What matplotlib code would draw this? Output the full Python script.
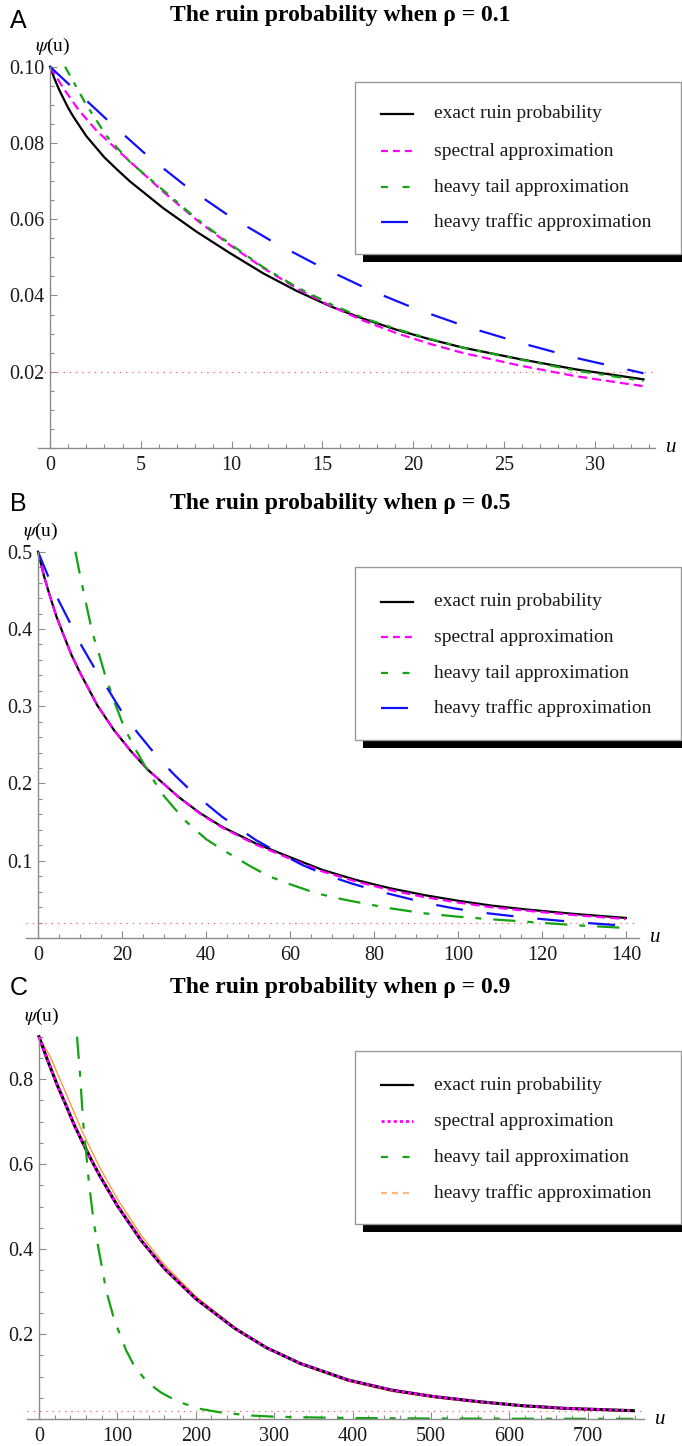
import matplotlib
matplotlib.use("Agg")
import matplotlib.pyplot as plt
from matplotlib.lines import Line2D
from matplotlib.patches import Rectangle
from matplotlib.ticker import MultipleLocator

plt.rcParams['font.family'] = ['Liberation Serif', 'DejaVu Serif']
plt.rcParams['mathtext.fontset'] = 'stix'
plt.rcParams['lines.scale_dashes'] = False

W, H = 682, 1446

# ---------------- data ----------------
labels = ["exact ruin probability", "spectral approximation",
          "heavy tail approximation", "heavy traffic approximation"]

# panel A, rho = 0.1
a_exact_u = [0, 0.25, 0.5, 1.0, 1.3, 2.0, 3.0, 3.7, 4.41, 6.24, 8.08, 9.92, 11.75,
             13.59, 15.43, 17.26, 19.1, 20.94, 22.77, 25.9, 29.0, 32.7]
a_exact = [0.100, 0.0968, 0.0940, 0.0892, 0.0868, 0.0818, 0.0762, 0.0730, 0.0699,
           0.0629, 0.0567, 0.0511, 0.0458, 0.0412, 0.0372, 0.0339, 0.0310, 0.0285,
           0.0263, 0.0233, 0.0206, 0.0180]
a_spec_u = [0, 0.73, 1.6, 2.57, 4.41, 6.24, 8.08, 9.92, 11.75, 13.59, 15.43, 17.26,
            19.1, 20.94, 22.77, 25.9, 29.0, 32.7]
a_spec = [0.100, 0.0944, 0.0885, 0.0832, 0.0751, 0.0672, 0.0598, 0.0532, 0.0472,
          0.0419, 0.0373, 0.0334, 0.0301, 0.0273, 0.0249, 0.0216, 0.0188, 0.0162]
a_tail_u = [0.83, 2.0, 3.12, 4.41, 6.24, 8.08, 9.92, 11.75, 13.59, 15.43, 17.26,
            19.1, 20.94, 22.77, 25.9, 29.0, 32.7]
a_tail = [0.100, 0.0900, 0.0818, 0.0750, 0.0676, 0.0601, 0.0535, 0.0474, 0.0422,
          0.0378, 0.0341, 0.0312, 0.0286, 0.0263, 0.0232, 0.0203, 0.0176]
a_traf_u = [0, 3.12, 5.33, 7.53, 9.92, 12.2, 14.88, 17.63, 20.2, 22.96, 25.9, 29.0, 32.7]
a_traf = [0.100, 0.0862, 0.0768, 0.0685, 0.0607, 0.0543, 0.0476, 0.0414, 0.0364,
          0.0318, 0.0276, 0.0236, 0.0196]

# panel B, rho = 0.5
b_exact_u = [0, 1.4, 2.9, 4.4, 6.1, 8.0, 10.1, 14.1, 18.1, 22.1, 26.1, 33.4, 38.5,
             43.8, 51.8, 59.8, 67.8, 75.8, 83.9, 91.9, 99.9, 107.9, 115.9, 128, 140]
b_exact = [0.500, 0.469, 0.4415, 0.416, 0.392, 0.366, 0.3424, 0.3014, 0.269, 0.2420,
           0.2180, 0.1828, 0.162, 0.144, 0.1225, 0.105, 0.088, 0.075, 0.0643,
           0.0556, 0.0483, 0.0420, 0.0371, 0.031, 0.026]
b_spec_u = [0, 1.4, 2.9, 4.4, 6.1, 8.0, 10.1, 14.1, 18.1, 22.1, 26.1, 33.4, 38.5,
            43.8, 51.8, 59.8, 67.8, 75.8, 83.9, 91.9, 99.9, 107.9, 115.9, 128, 140]
b_spec = [0.500, 0.469, 0.4415, 0.416, 0.392, 0.366, 0.3424, 0.3014, 0.269, 0.2420,
          0.2180, 0.1828, 0.161, 0.143, 0.121, 0.103, 0.086, 0.073, 0.062, 0.053,
          0.046, 0.0398, 0.0355, 0.0295, 0.0245]
b_tail_u = [8.9, 10.1, 11.7, 12.9, 14.5, 16.1, 18.5, 20.5, 22.9, 24.5, 26.9, 30.1,
            35, 40, 43.8, 47.4, 51, 55, 59.8, 66.2, 72.6, 78.3, 83.9, 91.9, 99.9,
            107.9, 114, 128, 140]
b_tail = [0.500, 0.467, 0.4265, 0.396, 0.368, 0.338, 0.301, 0.273, 0.247, 0.232,
          0.209, 0.183, 0.152, 0.128, 0.1147, 0.103, 0.0915, 0.080, 0.070, 0.058,
          0.050, 0.044, 0.0384, 0.032, 0.0276, 0.0242, 0.022, 0.0165, 0.013]
b_traf_u = [0, 2.5, 4.9, 7.9, 10.5, 13.7, 17.0, 20.5, 24.1, 28.4, 32.5, 37.1, 43.8,
            47, 51.8, 57.4, 63, 68.6, 75, 80.6, 87, 92.6, 99, 105.5, 111.9, 115.9,
            128, 140]
b_traf = [0.500, 0.467, 0.437, 0.405, 0.377, 0.347, 0.319, 0.288, 0.263, 0.2345,
          0.211, 0.187, 0.157, 0.145, 0.127, 0.110, 0.0944, 0.0815, 0.070, 0.0612,
          0.0526, 0.045, 0.0384, 0.033, 0.029, 0.0265, 0.0205, 0.0158]

# panel C, rho = 0.9
c_exact_u = [0, 7, 14, 24, 35, 45, 56.5, 67, 78, 100, 130, 160, 200, 250, 290, 333,
             394, 450, 505, 560, 616, 671, 758]
c_exact = [0.900, 0.864, 0.830, 0.783, 0.736, 0.692, 0.648, 0.609, 0.571, 0.502,
           0.421, 0.354, 0.283, 0.213, 0.168, 0.131, 0.092, 0.068, 0.0525, 0.041,
           0.0314, 0.0251, 0.0196]
c_spec_u = [0, 7, 14, 24, 35, 45, 56.5, 67, 78, 100, 130, 160, 200, 250, 290, 333,
            394, 450, 505, 560, 616, 671, 758]
c_spec = [0.900, 0.864, 0.830, 0.783, 0.736, 0.692, 0.648, 0.609, 0.571, 0.502,
          0.421, 0.354, 0.283, 0.213, 0.168, 0.131, 0.092, 0.068, 0.0525, 0.041,
          0.0314, 0.0251, 0.0196]
c_tail_u = [48.5, 52.8, 56.2, 60.5, 63.5, 70, 78, 86, 95, 103, 111, 122, 139, 156,
            177, 205, 233, 250, 272, 300, 338, 394, 500, 600, 758]
c_tail = [0.900, 0.80, 0.70, 0.62, 0.56, 0.46, 0.38, 0.30, 0.24, 0.20, 0.162,
          0.123, 0.085, 0.062, 0.041, 0.024, 0.015, 0.012, 0.008, 0.0055, 0.004,
          0.0024, 0.0012, 0.0007, 0.0004]
c_traf_u = [0, 15, 35, 56.5, 78, 100, 130, 160, 200, 250, 290, 333, 394, 450, 505,
            560, 616, 671, 758]
c_traf = [0.900, 0.850, 0.764, 0.671, 0.590, 0.518, 0.433, 0.363, 0.289, 0.215,
          0.168, 0.129, 0.089, 0.065, 0.050, 0.039, 0.0297, 0.0236, 0.0177]

# ---------------- styles ----------------
BLACK = dict(color='black', lw=1.6)
BLACK_C = dict(color='black', lw=2.2)
MAG_DASH = dict(color='#ff00ff', lw=1.6, dashes=(6.5, 3.6))
MAG_LEG = dict(color='#ff00ff', lw=1.6, dashes=(5, 3.6))
MAG_DOT = dict(color='#ff00ff', lw=2.0, dashes=(2.2, 2.2))
GREEN_A = dict(color='#13a313', lw=1.6, dashes=(7.2, 5.8, 3.6, 5.8))
GREEN_BC = dict(color='#13a313', lw=1.6, dashes=(16, 8.6, 4.3, 8.6))
GREEN_LEG = dict(color='#13a313', lw=1.6, dashes=(5, 10.5))
BLUE = dict(color='#1010ff', lw=1.6, dashes=(19.4, 17.3))
ORANGE = dict(color='#ff9a3c', lw=1.0)
ORANGE_LEG = dict(color='#ffb878', lw=1.6, dashes=(4.3, 3.6))

fig = plt.figure(figsize=(W / 100, H / 100), dpi=100)
ov = fig.add_axes([0, 0, 1, 1])
ov.set_xlim(0, W)
ov.set_ylim(H, 0)
ov.axis('off')
ov.set_zorder(10)


def make_axes(axis_x, x_left, x_right, sx, zero_y, top_y, ymax):
    # pixel geometry -> axes; sx is pixels per unit of u
    sy = (zero_y - top_y) / ymax
    pad = 12
    bottom = zero_y + pad
    ax = fig.add_axes([x_left / W, 1 - bottom / H, (x_right - x_left) / W,
                       (bottom - top_y) / H])
    ax.set_xlim((x_left - axis_x) / sx, (x_right - axis_x) / sx)
    ax.set_ylim(-pad / sy, ymax)
    ax.patch.set_alpha(0)
    for s in ['top', 'right']:
        ax.spines[s].set_visible(False)
    ax.spines['left'].set_position(('data', 0))
    ax.spines['bottom'].set_position(('data', 0))
    ax.spines['left'].set_bounds(0, ymax)
    for s in ['left', 'bottom']:
        ax.spines[s].set_color('#8c8c8c')
        ax.spines[s].set_linewidth(1.0)
    ax.tick_params(which='both', direction='in', color='#8c8c8c', width=0.8,
                   labelcolor='#1a1a1a', labelsize=14.5)
    ax.tick_params(which='major', length=5)
    ax.tick_params(which='minor', length=3)
    ax.tick_params(axis='x', pad=6)
    ax.tick_params(axis='y', pad=4)
    ax.axhline(0.02, color='#ff6a6a', lw=0.9, dashes=(1, 3.5))
    return ax


def decorate(letter, title, letter_y, title_y, axis_x, x_right, zero_y, top_y):
    ov.text(10, letter_y, letter, family='Liberation Sans', fontsize=18,
            ha='left', va='center')
    ov.text(340, title_y, title, fontsize=17, fontweight='bold',
            ha='center', va='center')
    ov.text(axis_x + 3, top_y - 20, r'$\psi$(u)', fontsize=14, ha='center',
            va='center')
    ov.text(x_right + 11, zero_y, 'u', fontsize=15, style='italic',
            ha='left', va='center')


def legend(box_top, box_bottom, rows, styles):
    ov.add_patch(Rectangle((363, box_top + 8), 330, box_bottom - box_top,
                           fc='black', ec='none'))
    ov.add_patch(Rectangle((355, box_top), 326, box_bottom - box_top,
                           fc='white', ec='#999999', lw=1.0))
    for y, lab, st in zip(rows, labels, styles):
        ov.add_line(Line2D([381, 413], [y, y], **st))
        ov.text(434, y, lab, fontsize=14, ha='left', va='center', color='#1a1a1a')


# ---------- panel A ----------
axA = make_axes(50, 38, 654.6, 18.15, 448, 66.7, 0.1)
axA.plot(a_exact_u, a_exact, clip_on=False, **BLACK)
axA.plot(a_spec_u, a_spec, clip_on=False, **MAG_DASH)
axA.plot(a_tail_u, a_tail, clip_on=False, **GREEN_A)
axA.plot(a_traf_u, a_traf, clip_on=False, **BLUE)
axA.set_xticks([0, 5, 10, 15, 20, 25, 30])
axA.set_yticks([0.02, 0.04, 0.06, 0.08, 0.10])
axA.set_yticklabels(['0.02', '0.04', '0.06', '0.08', '0.10'])
axA.xaxis.set_minor_locator(MultipleLocator(1))
axA.yaxis.set_minor_locator(MultipleLocator(0.005))
decorate('A', 'The ruin probability when ρ = 0.1', 21, 16, 50, 654.6, 448, 66.7)
legend(81.7, 254, [114, 151, 187, 222], [BLACK, MAG_LEG, GREEN_LEG, BLUE])

# ---------- panel B ----------
axB = make_axes(38, 26, 639, 4.2, 938, 551.7, 0.5)
axB.plot(b_exact_u, b_exact, clip_on=False, **BLACK)
axB.plot(b_spec_u, b_spec, clip_on=False, **MAG_DASH)
axB.plot(b_tail_u, b_tail, clip_on=False, **GREEN_BC)
axB.plot(b_traf_u, b_traf, clip_on=False, **BLUE)
axB.set_xticks([0, 20, 40, 60, 80, 100, 120, 140])
axB.set_yticks([0.1, 0.2, 0.3, 0.4, 0.5])
axB.xaxis.set_minor_locator(MultipleLocator(5))
axB.yaxis.set_minor_locator(MultipleLocator(0.02))
decorate('B', 'The ruin probability when ρ = 0.5', 504, 503, 38, 639, 938, 551.7)
legend(567, 740, [602, 637, 673, 708], [BLACK, MAG_LEG, GREEN_LEG, BLUE])

# ---------- panel C ----------
axC = make_axes(39, 27, 644, 0.784, 1419, 1036.7, 0.9)
axC.plot(c_traf_u, c_traf, clip_on=False, **ORANGE)
axC.plot(c_exact_u, c_exact, clip_on=False, **BLACK_C)
axC.plot(c_spec_u, c_spec, clip_on=False, **MAG_DOT)
axC.plot(c_tail_u, c_tail, clip_on=False, **GREEN_BC)
axC.set_xticks([0, 100, 200, 300, 400, 500, 600, 700])
axC.set_yticks([0.2, 0.4, 0.6, 0.8])
axC.xaxis.set_minor_locator(MultipleLocator(20))
axC.yaxis.set_minor_locator(MultipleLocator(0.05))
decorate('C', 'The ruin probability when ρ = 0.9', 988, 987, 39, 644, 1419, 1036.7)
legend(1051, 1224, [1085, 1121, 1157, 1193], [BLACK, MAG_DOT, GREEN_LEG, ORANGE_LEG])

fig.savefig('out.png', dpi=100)
